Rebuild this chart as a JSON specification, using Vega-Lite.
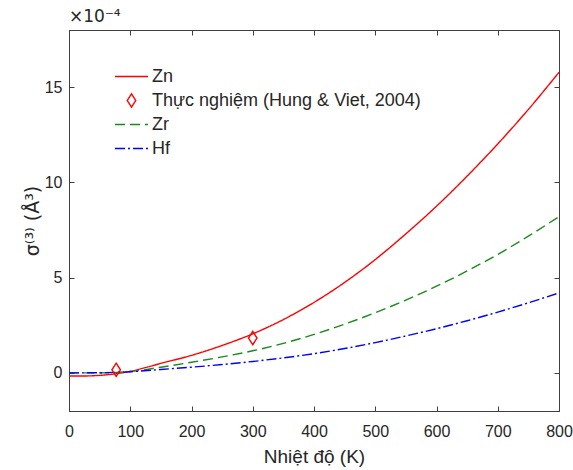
{
  "$schema": "https://vega.github.io/schema/vega-lite/v6.json",
  "width": 490,
  "height": 381,
  "autosize": {"type": "none"},
  "padding": {"left": 69, "top": 30, "right": 14, "bottom": 59},
  "background": "white",
  "title": {"text": "×10⁻⁴", "anchor": "start", "frame": "group", "font": "DejaVu Sans", "fontSize": 17, "fontWeight": "normal", "color": "#262626", "offset": 4},
  "config": {
    "font": "Liberation Sans",
    "view": {"stroke": "#404040", "strokeWidth": 1},
    "axis": {"domainColor": "#404040", "tickColor": "#404040", "labelColor": "#262626", "titleColor": "#262626", "grid": false, "labelFontSize": 16, "titleFontSize": 19, "titleFontWeight": "normal", "tickSize": -5, "labelFlush": false, "labelOverlap": false},
    "legend": {"orient": "none", "legendX": 49, "legendY": 33, "title": null, "symbolSize": 625, "symbolStrokeWidth": 1.4, "labelFontSize": 18, "labelColor": "#262626", "labelLimit": 400, "rowPadding": 1, "labelOffset": 7}
  },
  "datasets": {
    "curves": [
      {"series": "Zn", "T": 0, "v": -0.16}, {"series": "Zn", "T": 25, "v": -0.16}, {"series": "Zn", "T": 50, "v": -0.13}, {"series": "Zn", "T": 75, "v": -0.05}, {"series": "Zn", "T": 100, "v": 0.08}, {"series": "Zn", "T": 125, "v": 0.28}, {"series": "Zn", "T": 150, "v": 0.5}, {"series": "Zn", "T": 200, "v": 0.92}, {"series": "Zn", "T": 250, "v": 1.44}, {"series": "Zn", "T": 300, "v": 2.05}, {"series": "Zn", "T": 350, "v": 2.8}, {"series": "Zn", "T": 400, "v": 3.7}, {"series": "Zn", "T": 450, "v": 4.75}, {"series": "Zn", "T": 500, "v": 5.95}, {"series": "Zn", "T": 550, "v": 7.3}, {"series": "Zn", "T": 600, "v": 8.75}, {"series": "Zn", "T": 650, "v": 10.33}, {"series": "Zn", "T": 700, "v": 12.02}, {"series": "Zn", "T": 750, "v": 13.83}, {"series": "Zn", "T": 800, "v": 15.78},
      {"series": "Zr", "T": 0, "v": 0.0}, {"series": "Zr", "T": 50, "v": 0.0}, {"series": "Zr", "T": 100, "v": 0.07}, {"series": "Zr", "T": 150, "v": 0.3}, {"series": "Zr", "T": 200, "v": 0.56}, {"series": "Zr", "T": 250, "v": 0.84}, {"series": "Zr", "T": 300, "v": 1.16}, {"series": "Zr", "T": 350, "v": 1.55}, {"series": "Zr", "T": 400, "v": 2.02}, {"series": "Zr", "T": 450, "v": 2.56}, {"series": "Zr", "T": 500, "v": 3.16}, {"series": "Zr", "T": 550, "v": 3.82}, {"series": "Zr", "T": 600, "v": 4.55}, {"series": "Zr", "T": 650, "v": 5.35}, {"series": "Zr", "T": 700, "v": 6.22}, {"series": "Zr", "T": 750, "v": 7.18}, {"series": "Zr", "T": 800, "v": 8.2},
      {"series": "Hf", "T": 0, "v": 0.0}, {"series": "Hf", "T": 50, "v": 0.01}, {"series": "Hf", "T": 100, "v": 0.06}, {"series": "Hf", "T": 150, "v": 0.18}, {"series": "Hf", "T": 200, "v": 0.3}, {"series": "Hf", "T": 250, "v": 0.44}, {"series": "Hf", "T": 300, "v": 0.6}, {"series": "Hf", "T": 350, "v": 0.79}, {"series": "Hf", "T": 400, "v": 1.01}, {"series": "Hf", "T": 450, "v": 1.28}, {"series": "Hf", "T": 500, "v": 1.59}, {"series": "Hf", "T": 550, "v": 1.94}, {"series": "Hf", "T": 600, "v": 2.32}, {"series": "Hf", "T": 650, "v": 2.74}, {"series": "Hf", "T": 700, "v": 3.19}, {"series": "Hf", "T": 750, "v": 3.68}, {"series": "Hf", "T": 800, "v": 4.2}
    ],
    "exp": [
      {"series": "Thực nghiệm (Hung & Viet, 2004)", "T": 77, "v": 0.16},
      {"series": "Thực nghiệm (Hung & Viet, 2004)", "T": 300, "v": 1.83}
    ]
  },
  "resolve": {"axis": {"x": "independent", "y": "independent"}},
  "layer": [
    {
      "data": {"name": "curves"},
      "mark": {"type": "line", "strokeWidth": 1.4, "clip": true, "interpolate": "monotone"},
      "encoding": {
        "x": {"field": "T", "type": "quantitative", "scale": {"domain": [0, 800], "nice": false, "zero": false}, "axis": {"values": [0, 100, 200, 300, 400, 500, 600, 700, 800], "title": "Nhiệt độ (K)", "titlePadding": 8, "labelPadding": 17}},
        "y": {"field": "v", "type": "quantitative", "scale": {"domain": [-2, 18], "nice": false, "zero": false}, "axis": {"values": [0, 5, 10, 15], "title": "σ⁽³⁾ (Å³)", "titleFont": "DejaVu Sans", "titlePadding": 2, "labelPadding": 12}},
        "color": {"field": "series", "type": "nominal", "scale": {"domain": ["Zn", "Thực nghiệm (Hung & Viet, 2004)", "Zr", "Hf"], "range": ["#FF0000", "#FF0000", "#1A8A1A", "#0000FF"]}},
        "strokeDash": {"field": "series", "type": "nominal", "scale": {"domain": ["Zn", "Thực nghiệm (Hung & Viet, 2004)", "Zr", "Hf"], "range": [[1, 0], [1, 0], [10, 5], [10, 3, 2, 3]]}}
      }
    },
    {
      "data": {"name": "exp"},
      "mark": {"type": "point", "filled": false, "size": 625, "strokeWidth": 1.4, "opacity": 1},
      "encoding": {
        "x": {"field": "T", "type": "quantitative", "axis": null},
        "y": {"field": "v", "type": "quantitative", "axis": null},
        "color": {"field": "series", "type": "nominal"},
        "shape": {"field": "series", "type": "nominal", "scale": {"domain": ["Zn", "Thực nghiệm (Hung & Viet, 2004)", "Zr", "Hf"], "range": ["M-1.32,0H1.32", "M0,-0.53L0.34,0L0,0.53L-0.34,0Z", "M-1.32,0H1.32", "M-1.32,0H1.32"]}}
      }
    },
    {
      "data": {"name": "exp"},
      "mark": {"type": "point", "opacity": 0},
      "encoding": {
        "x": {"field": "T", "type": "quantitative", "axis": {"orient": "top", "values": [0, 100, 200, 300, 400, 500, 600, 700, 800], "labels": false, "title": null}},
        "y": {"field": "v", "type": "quantitative", "axis": {"orient": "right", "values": [0, 5, 10, 15], "labels": false, "title": null}}
      }
    }
  ]
}
